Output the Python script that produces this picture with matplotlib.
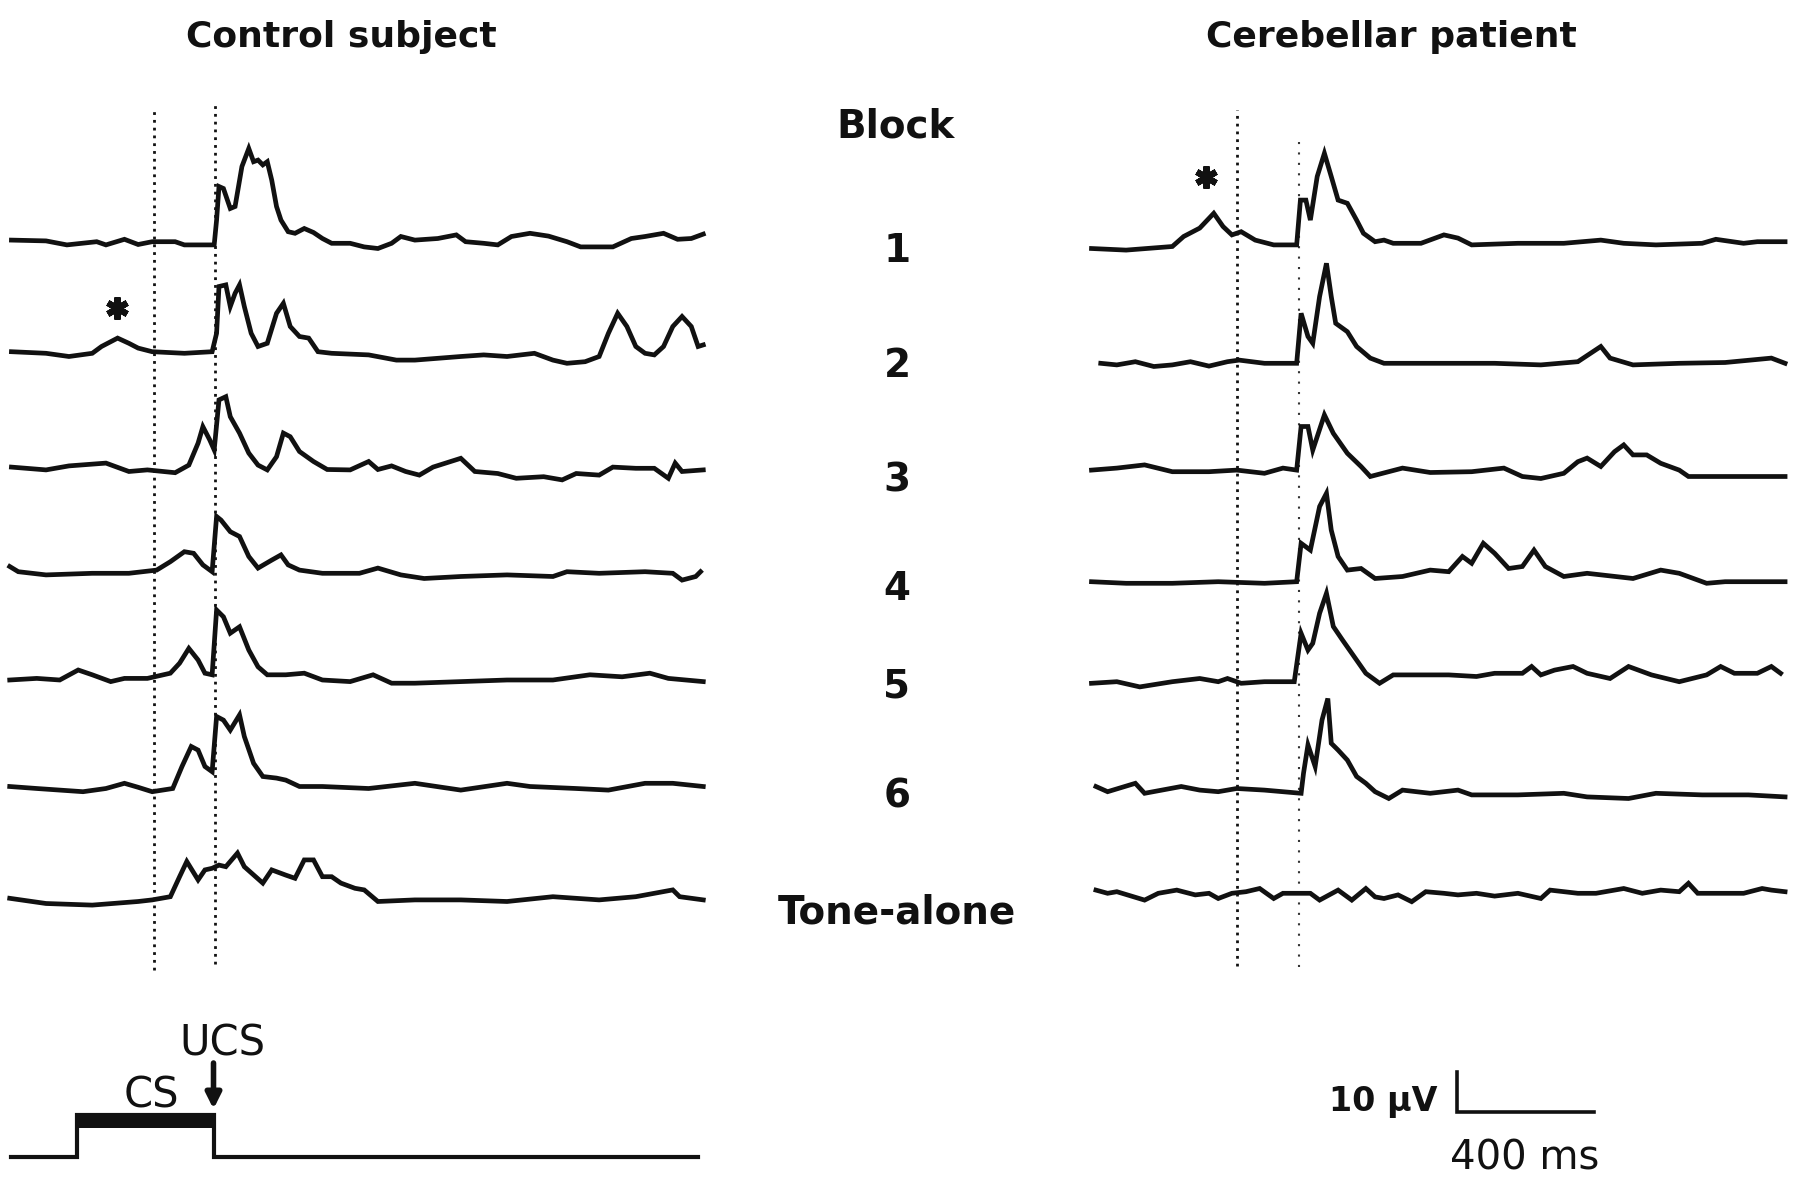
import numpy as np
import matplotlib
matplotlib.use("Agg")
import matplotlib.pyplot as plt

# ---------------- data (time in ms, amplitude in µV) ----------------
blocks = ["1", "2", "3", "4", "5", "6", "Tone-alone"]

ctrl_b1_t = [10, 111, 172, 259, 286, 340, 380, 421, 488, 515, 602, 609, 616, 629, 649, 663, 683, 703, 717, 730, 744, 757, 770, 784, 797, 818, 838, 865, 892, 918, 945, 999, 1040, 1080, 1120, 1147, 1188, 1255, 1309, 1336, 1389, 1430, 1470, 1524, 1578, 1632, 1672, 1766, 1820, 1860, 1914, 1955, 1995, 2030]
ctrl_b1_v = [0.4, 0.2, -0.8, 0.0, -0.8, 0.6, -0.7, 0.0, 0.0, -0.8, -0.8, 5.4, 13.8, 13.3, 8.3, 8.8, 18.8, 23.3, 20.0, 20.4, 19.2, 20.0, 15.4, 8.8, 5.4, 2.5, 2.1, 3.3, 2.3, 0.8, -0.4, -0.4, -1.3, -1.7, -0.4, 1.3, 0.4, 0.8, 1.7, 0.0, -0.4, -0.8, 1.3, 2.1, 1.4, 0.0, -1.3, -1.3, 0.8, 1.3, 2.1, 0.6, 0.8, 1.9]

ctrl_b2_t = [10, 111, 178, 246, 273, 320, 353, 380, 421, 515, 596, 609, 616, 636, 649, 663, 676, 690, 710, 730, 757, 784, 804, 824, 851, 878, 905, 945, 1053, 1134, 1188, 1322, 1389, 1457, 1537, 1591, 1632, 1685, 1726, 1753, 1780, 1807, 1833, 1860, 1887, 1914, 1941, 1968, 1995, 2015, 2030]
ctrl_b2_v = [0.4, 0.0, -0.8, 0.0, 1.7, 3.8, 2.5, 1.3, 0.4, 0.0, 0.4, 5.0, 16.7, 17.1, 11.7, 15.0, 17.1, 11.7, 5.0, 1.7, 2.5, 10.0, 12.5, 6.7, 4.2, 3.8, 0.4, 0.0, -0.4, -1.7, -1.7, -0.8, -0.4, -0.8, 0.0, -1.7, -2.5, -2.1, -0.8, 5.0, 10.0, 6.7, 1.7, 0.0, -0.4, 1.7, 6.7, 9.2, 6.7, 1.7, 2.1]

ctrl_b3_t = [10, 111, 178, 286, 353, 407, 488, 528, 555, 569, 589, 602, 616, 636, 649, 676, 703, 730, 757, 784, 804, 824, 851, 892, 932, 999, 1053, 1080, 1120, 1161, 1201, 1241, 1322, 1363, 1430, 1484, 1564, 1618, 1659, 1726, 1766, 1833, 1887, 1928, 1948, 1968, 2030]
ctrl_b3_v = [0.3, -0.4, 0.6, 1.3, -0.8, -0.4, -1.1, 0.8, 6.3, 10.4, 7.1, 4.6, 17.1, 17.9, 12.9, 8.8, 3.8, 0.8, -0.4, 2.9, 8.8, 7.9, 4.2, 1.7, -0.3, -0.4, 1.7, -0.3, 0.6, -0.8, -1.7, 0.3, 2.5, -0.8, -1.3, -2.5, -2.1, -2.9, -1.3, -1.7, 0.3, 0.0, 0.0, -2.5, 1.3, -0.8, -0.4]

ctrl_b4_t = [5, 30, 111, 246, 353, 434, 474, 515, 542, 569, 596, 609, 622, 649, 676, 703, 730, 770, 797, 818, 851, 918, 1026, 1080, 1147, 1215, 1322, 1457, 1591, 1632, 1726, 1860, 1941, 1968, 2008, 2022]
ctrl_b4_v = [1.7, 0.4, -0.4, 0.0, 0.0, 0.8, 2.9, 5.4, 5.0, 2.1, 0.4, 14.2, 13.3, 10.4, 9.2, 4.2, 1.3, 3.3, 4.6, 2.1, 0.8, 0.0, 0.0, 1.3, -0.4, -1.3, -0.8, -0.4, -0.8, 0.4, 0.0, 0.4, 0.0, -1.7, -0.8, 0.4]

ctrl_b5_t = [5, 84, 151, 205, 246, 300, 340, 407, 474, 501, 528, 555, 575, 596, 609, 629, 649, 676, 703, 730, 757, 811, 865, 918, 999, 1066, 1120, 1188, 1322, 1457, 1591, 1699, 1793, 1874, 1928, 2030]
ctrl_b5_v = [0.0, 0.4, 0.0, 2.5, 1.3, -0.4, 0.4, 0.4, 1.7, 4.2, 7.9, 5.0, 1.7, 1.3, 17.5, 15.8, 11.7, 13.3, 7.5, 3.3, 1.3, 1.3, 1.7, 0.0, -0.4, 1.3, -0.8, -0.8, -0.4, 0.0, 0.0, 1.3, 0.8, 1.7, 0.4, -0.4]

ctrl_b6_t = [5, 84, 219, 286, 340, 380, 421, 481, 508, 535, 555, 575, 596, 609, 629, 649, 676, 690, 717, 744, 784, 811, 851, 918, 1053, 1188, 1322, 1457, 1524, 1659, 1753, 1860, 1941, 2030]
ctrl_b6_v = [0.2, -0.3, -1.1, -0.3, 1.0, 0.0, -1.1, -0.3, 5.2, 10.2, 9.3, 5.2, 3.9, 17.7, 16.8, 14.3, 18.1, 12.7, 6.0, 2.7, 2.3, 1.8, 0.2, 0.2, -0.3, 1.0, -0.7, 1.0, 0.2, -0.3, -0.7, 1.0, 1.0, 0.2]

ctrl_ta_t = [5, 111, 246, 380, 421, 474, 501, 522, 555, 575, 596, 616, 636, 670, 690, 744, 770, 811, 838, 865, 892, 918, 945, 972, 1013, 1040, 1080, 1188, 1322, 1457, 1591, 1726, 1833, 1941, 1961, 2030]
ctrl_ta_v = [0.0, -1.3, -1.7, -0.8, -0.4, 0.4, 5.4, 9.2, 4.6, 7.1, 7.5, 8.3, 7.9, 11.3, 7.9, 3.8, 7.1, 5.8, 5.0, 9.6, 9.6, 5.4, 5.4, 3.8, 2.5, 2.1, -0.8, -0.4, -0.4, -0.8, 0.4, -0.4, 0.4, 2.1, 0.4, -0.4]

pat_b1_t = [0, 101, 236, 269, 316, 357, 384, 410, 437, 478, 532, 599, 610, 626, 639, 659, 680, 700, 720, 747, 774, 794, 828, 854, 881, 962, 1029, 1070, 1110, 1245, 1379, 1487, 1554, 1648, 1783, 1823, 1904, 1944, 2025]
pat_b1_v = [-1.3, -1.7, -0.8, 1.7, 3.8, 7.5, 4.2, 2.1, 2.9, 0.8, -0.4, -0.4, 10.8, 10.8, 5.8, 16.7, 22.5, 16.7, 10.8, 10.0, 5.8, 2.5, 0.4, 0.8, 0.0, 0.0, 2.1, 1.3, -0.4, 0.0, 0.0, 0.8, 0.0, -0.4, 0.0, 1.0, 0.0, 0.4, 0.4]

pat_b2_t = [27, 74, 128, 182, 236, 289, 343, 397, 431, 505, 599, 612, 632, 646, 666, 686, 700, 713, 747, 774, 814, 854, 1043, 1177, 1312, 1420, 1487, 1514, 1581, 1716, 1850, 1985, 2025]
pat_b2_v = [0.0, -0.4, 0.4, -0.8, -0.4, 0.4, -0.7, 0.4, 0.8, 0.0, 0.0, 12.5, 6.7, 5.0, 16.7, 25.0, 16.7, 10.0, 7.9, 4.2, 1.3, 0.0, 0.0, 0.0, -0.4, 0.4, 4.2, 1.3, -0.4, 0.0, 0.2, 1.3, 0.0]

pat_b3_t = [0, 74, 155, 236, 343, 424, 505, 559, 599, 612, 632, 646, 680, 706, 747, 787, 814, 908, 989, 1110, 1204, 1258, 1312, 1379, 1420, 1447, 1487, 1527, 1554, 1581, 1621, 1662, 1716, 1743, 1850, 1985, 2025]
pat_b3_v = [0.8, 1.3, 2.1, 0.4, 0.4, 0.8, 0.0, 1.3, 0.8, 11.7, 11.7, 5.8, 14.6, 10.0, 5.0, 1.7, -0.8, 1.3, 0.2, 0.4, 1.3, -0.8, -1.3, 0.0, 2.9, 3.8, 1.7, 5.4, 7.1, 4.6, 4.6, 2.5, 0.8, -0.8, -0.8, -0.8, -0.8]

pat_b4_t = [0, 101, 236, 370, 505, 599, 612, 639, 666, 686, 700, 720, 747, 787, 828, 908, 989, 1043, 1083, 1110, 1144, 1177, 1218, 1258, 1292, 1325, 1379, 1447, 1581, 1662, 1716, 1796, 1850, 2025]
pat_b4_v = [0.0, -0.4, -0.4, 0.0, -0.4, 0.0, 9.6, 7.9, 18.8, 22.1, 12.9, 6.3, 2.9, 3.3, 0.8, 1.3, 2.9, 2.5, 6.3, 4.6, 9.6, 7.1, 3.3, 3.8, 7.9, 3.8, 1.3, 2.1, 0.8, 2.9, 2.1, -0.4, 0.0, 0.0]

pat_b5_t = [0, 74, 141, 236, 316, 370, 397, 437, 505, 592, 612, 632, 646, 666, 686, 706, 733, 774, 801, 841, 881, 935, 1043, 1124, 1177, 1258, 1285, 1312, 1352, 1406, 1447, 1514, 1568, 1635, 1716, 1796, 1837, 1877, 1944, 1985, 2012]
pat_b5_v = [-0.4, 0.0, -1.3, 0.0, 0.8, 0.0, 0.8, -0.4, 0.0, 0.0, 12.1, 7.9, 9.6, 17.1, 22.1, 13.8, 10.4, 5.4, 2.1, -0.4, 1.7, 1.7, 1.7, 1.3, 2.1, 2.1, 3.8, 1.7, 2.9, 3.8, 2.1, 0.8, 3.8, 1.7, 0.0, 1.7, 3.8, 2.1, 2.1, 3.8, 2.1]

pat_b6_t = [13, 47, 128, 155, 262, 316, 370, 424, 505, 612, 619, 632, 653, 673, 690, 700, 720, 747, 774, 801, 828, 868, 908, 989, 1070, 1110, 1245, 1379, 1447, 1568, 1648, 1783, 1918, 2025]
pat_b6_v = [1.3, 0.0, 2.1, -0.4, 1.3, 0.4, 0.0, 0.8, 0.4, -0.4, 4.6, 11.7, 6.3, 17.9, 23.3, 12.1, 10.4, 7.9, 3.8, 2.1, 0.0, -1.7, 0.4, -0.4, 0.4, -0.8, -0.8, -0.4, -1.3, -1.7, -0.4, -0.8, -0.8, -1.3]

pat_ta_t = [13, 47, 74, 155, 195, 249, 303, 343, 370, 410, 451, 491, 532, 559, 639, 666, 720, 760, 801, 828, 854, 895, 935, 976, 1029, 1070, 1124, 1177, 1245, 1312, 1339, 1420, 1473, 1554, 1608, 1662, 1716, 1743, 1770, 1850, 1904, 1958, 1985, 2025]
pat_ta_v = [0.4, -0.4, 0.0, -2.1, -0.4, 0.4, -0.8, -0.4, -1.7, -0.4, 0.0, 0.8, -1.7, -0.4, -0.4, -2.1, 0.4, -2.1, 0.8, -1.3, -1.7, -0.8, -2.5, 0.0, -0.4, -0.8, -0.4, -1.1, -0.4, -1.7, 0.4, -0.4, -0.4, 0.8, -0.4, 0.4, 0.0, 2.1, -0.4, -0.4, -0.4, 0.8, 0.4, 0.0]

# stimulus timing (ms) and markers
cs_onset, ucs_time = 200, 600
window_line = 425          # dotted reference line (ms)
stim_t = [10, 200, 200, 600, 600, 2015]
stim_on = [0, 0, 1, 1, 0, 0]
asterisk_ctrl = (318, 11.3)   # (ms, µV above block-2 baseline)
asterisk_pat = (334, 16.5)    # (ms, µV above block-1 baseline)
scale_ms, scale_uv = 400, 10

ctrl_traces = [(ctrl_b1_t, ctrl_b1_v), (ctrl_b2_t, ctrl_b2_v), (ctrl_b3_t, ctrl_b3_v),
               (ctrl_b4_t, ctrl_b4_v), (ctrl_b5_t, ctrl_b5_v), (ctrl_b6_t, ctrl_b6_v),
               (ctrl_ta_t, ctrl_ta_v)]
pat_traces = [(pat_b1_t, pat_b1_v), (pat_b2_t, pat_b2_v), (pat_b3_t, pat_b3_v),
              (pat_b4_t, pat_b4_v), (pat_b5_t, pat_b5_v), (pat_b6_t, pat_b6_v),
              (pat_ta_t, pat_ta_v)]

# ---------------- layout ----------------
W, H = 1800, 1180
PX_PER_MS = 0.3425
PX_PER_UV = 4.0
ctrl_x0, pat_x0 = 8.0, 1091.5          # pixel x of t = 0
ctrl_base_px = [241.7, 353.3, 468.3, 573.3, 680.0, 787.3, 898.3]
pat_base_px = [243.3, 363.3, 473.3, 581.7, 681.7, 791.7, 891.7]
stim_base_px = 1157
label_base_px = [262, 377, 491, 600, 698, 807, 923]

def uv(ypx):
    return (H - ypx) / PX_PER_UV

plt.rcParams['font.family'] = ['DejaVu Sans']
fig = plt.figure(figsize=(W / 100, H / 100), dpi=100)
fig.patch.set_facecolor('white')

axL = fig.add_axes([0, 0, 0.5, 1])
axR = fig.add_axes([0.5, 0, 0.5, 1])
for ax, x0, xpx0 in ((axL, ctrl_x0, 0), (axR, pat_x0, 900)):
    ax.set_xlim((xpx0 - x0) / PX_PER_MS, (xpx0 + 900 - x0) / PX_PER_MS)
    ax.set_ylim(0, H / PX_PER_UV)
    ax.axis('off')
    ax.patch.set_alpha(0)

INK = '#111111'
LW = 3.4

for (t, v), b in zip(ctrl_traces, ctrl_base_px):
    axL.plot(t, np.array(v) + uv(b), color=INK, lw=LW, solid_joinstyle='miter')
for (t, v), b in zip(pat_traces, pat_base_px):
    axR.plot(t, np.array(v) + uv(b), color=INK, lw=LW, solid_joinstyle='miter')

# dotted reference lines
dot = dict(color=INK, lw=2.0, linestyle=(0, (1.0, 1.8)))
axL.plot([window_line, window_line], [uv(970), uv(109)], **dot)
axL.plot([ucs_time + 5, ucs_time + 5], [uv(964), uv(101)], **dot)
axR.plot([window_line, window_line], [uv(966), uv(110)], **dot)
axR.plot([ucs_time + 5, ucs_time + 5], [uv(967), uv(138)], color=INK, lw=1.5,
         linestyle=(0, (1.0, 4.0)), alpha=0.85)

# asterisks
axL.plot([asterisk_ctrl[0]], [asterisk_ctrl[1] + uv(ctrl_base_px[1])], marker=(6, 2, 0),
         ms=16, mew=4.5, color=INK, ls='none')
axR.plot([asterisk_pat[0]], [asterisk_pat[1] + uv(pat_base_px[0])], marker=(6, 2, 0),
         ms=16, mew=4.5, color=INK, ls='none')

# stimulus trace
sb = uv(stim_base_px)
stim_h = 10.5
axL.plot(stim_t, sb + np.array(stim_on) * stim_h, color=INK, lw=3.0, solid_joinstyle='miter')
axL.fill_between([cs_onset, ucs_time], sb + stim_h - 3.3, sb + stim_h, color=INK, lw=0)
axL.annotate('', xy=(ucs_time, uv(1109)), xytext=(ucs_time, uv(1063)),
             arrowprops=dict(arrowstyle='-|>,head_length=0.9,head_width=0.45',
                             color=INK, lw=4.0, shrinkA=0, shrinkB=0))
axL.text(ucs_time + 25, uv(1055), 'UCS', ha='center', va='baseline', fontsize=30, color=INK)
axL.text(419, uv(1107), 'CS', ha='center', va='baseline', fontsize=30, color=INK)

# scale bar
sx, sy = 1067, uv(1112)
axR.plot([sx, sx, sx + scale_ms], [sy + scale_uv, sy, sy], color=INK, lw=2.6,
         solid_joinstyle='miter')
axR.text(sx - 58, sy + 0.2, '10 µV', ha='right', va='baseline', fontsize=24,
         fontweight='bold', color=INK)
axR.text(sx + 199, uv(1170), '400 ms', ha='center', va='baseline', fontsize=29, color=INK)

# titles and labels
fig.text(341 / W, 1 - 47 / H, 'Control subject', ha='center', va='baseline', fontsize=26,
         fontweight='bold', color=INK)
fig.text(1391 / W, 1 - 47 / H, 'Cerebellar patient', ha='center', va='baseline', fontsize=26,
         fontweight='bold', color=INK)
fig.text(895 / W, 1 - 137 / H, 'Block', ha='center', va='baseline', fontsize=28,
         fontweight='bold', color=INK)
for lab, yb in zip(blocks, label_base_px):
    fig.text(897 / W, 1 - yb / H, lab, ha='center', va='baseline', fontsize=28,
             fontweight='bold', color=INK)

fig.savefig('out.png', dpi=100, facecolor='white')
